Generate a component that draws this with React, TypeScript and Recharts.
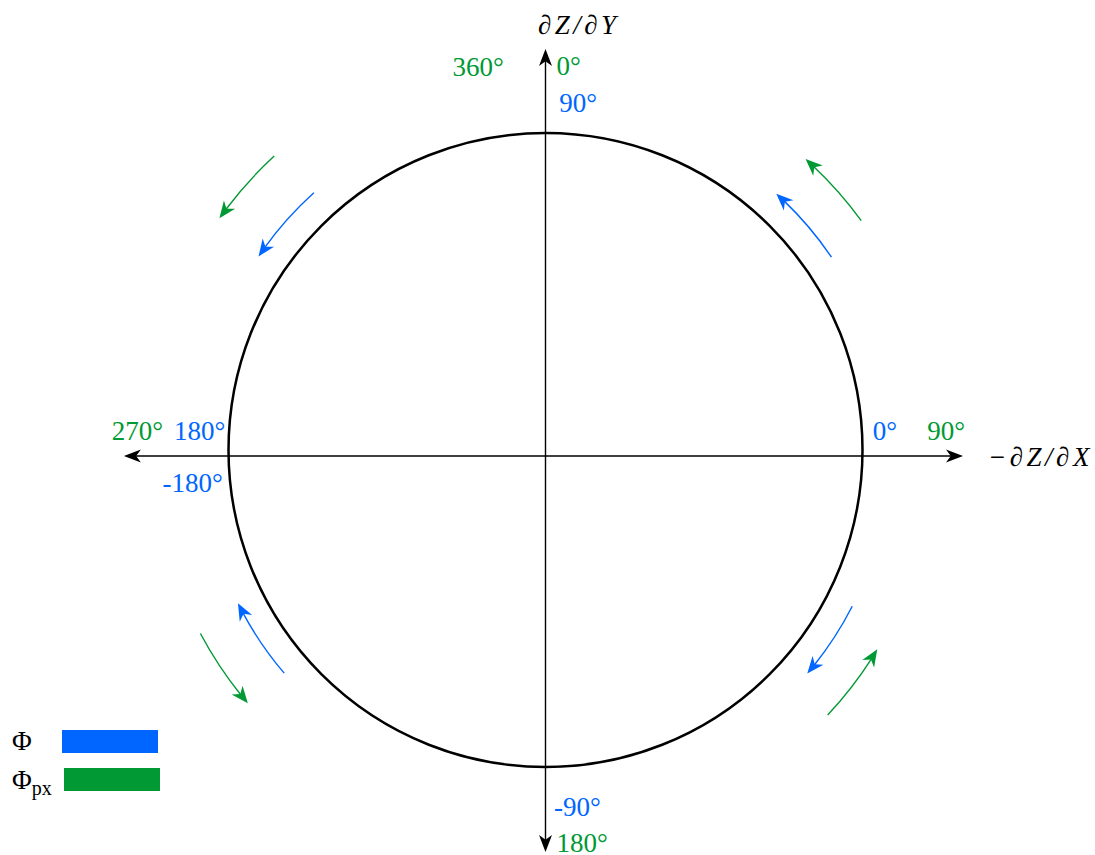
import React from "react";
import {
  Legend,
  ReferenceDot,
  ReferenceLine,
  Scatter,
  ScatterChart,
  XAxis,
  YAxis,
} from "recharts";

const W = 1095;
const H = 855;
// pixels per unit of circle radius; the circle has radius 1
const K = 317;
const CX = 545.5;
const CY = 450;
const X_DOMAIN = [-CX / K, (W - CX) / K];
const Y_DOMAIN = [-(H - CY) / K, CY / K];

const BLUE = "#0066ff";
const GREEN = "#009933";
const SERIF = "'Liberation Serif', 'DejaVu Serif', serif";

// direction arcs: tail angle -> head angle (degrees), radius in circle units
const phiArrows = [
  { from: 34, to: 48, r: 1.088 },
  { from: 132, to: 146, r: 1.092 },
  { from: -139.5, to: -153.5, r: 1.084 },
  { from: -27, to: -40.5, r: 1.086 },
];
const phiPxArrows = [
  { from: 36, to: 48.2, r: 1.231 },
  { from: 132.7, to: 144.6, r: 1.262 },
  { from: -152, to: -139.6, r: 1.233 },
  { from: -43.2, to: -31, r: 1.221 },
];

const phiTicks = ["0°", "90°", "180°", "-180°", "-90°"];
const phiPxTicks = ["0°", "90°", "180°", "270°", "360°"];
const axisTitles = ["∂Z/∂Y", "−∂Z/∂X"];
const legendNames = ["Φ", "Φpx"];

// where each label sits (start of text, baseline), circle units
const phiTickSpots = [
  [1.032, 0.033],
  [0.043, 1.066],
  [-1.172, 0.033],
  [-1.208, -0.132],
  [0.027, -1.156],
];
const phiPxTickSpots = [
  [0.035, 1.183],
  [1.204, 0.033],
  [0.035, -1.268],
  [-1.368, 0.033],
  [-0.293, 1.18],
];
const titleSpots = [
  [-0.024, 1.312],
  [1.396, -0.05],
];

const phiLabels = phiTicks.map((t, i) => ({ x: phiTickSpots[i][0], y: phiTickSpots[i][1], text: t }));
const phiPxLabels = phiPxTicks.map((t, i) => ({ x: phiPxTickSpots[i][0], y: phiPxTickSpots[i][1], text: t }));
const titleLabels = axisTitles.map((t, i) => ({ x: titleSpots[i][0], y: titleSpots[i][1], text: t }));

const rad = (d: number) => (d * Math.PI) / 180;

function headPath(xt: number, yt: number, ang: number, L: number, w: number, notch = 0.72) {
  const c = Math.cos(ang);
  const s = Math.sin(ang);
  const pts = [
    [0, 0],
    [-L, -w / 2],
    [-notch * L, 0],
    [-L, w / 2],
  ].map(([lx, ly]) => `${xt + lx * c - ly * s},${yt + lx * s + ly * c}`);
  return `M${pts.join("L")}Z`;
}

function arcShape(color: string) {
  return (props: any) => {
    const { cx, cy, payload } = props;
    const rPx = payload.r * K;
    const a0 = rad(payload.from);
    const a1 = rad(payload.to);
    const dir = a1 > a0 ? 1 : -1;
    const L = 17;
    const pt = (a: number) => [cx + rPx * Math.cos(a), cy - rPx * Math.sin(a)];
    const [x0, y0] = pt(a0);
    const [xe, ye] = pt(a1 - (dir * L * 0.6) / rPx);
    const [xt, yt] = pt(a1);
    const [xb, yb] = pt(a1 - (dir * L) / rPx);
    const ang = Math.atan2(yt - yb, xt - xb);
    return (
      <g>
        <path
          d={`M${x0},${y0}A${rPx},${rPx} 0 0 ${dir > 0 ? 0 : 1} ${xe},${ye}`}
          fill="none"
          stroke={color}
          strokeWidth={1.4}
        />
        <path d={headPath(xt, yt, ang, L, 14, 0.7)} fill={color} />
      </g>
    );
  };
}

function textShape(color: string, italic = false) {
  return (props: any) => {
    const { cx, cy, payload } = props;
    return (
      <text
        x={cx}
        y={cy}
        fill={color}
        fontFamily={SERIF}
        fontSize={27}
        fontStyle={italic ? "italic" : "normal"}
        letterSpacing={italic ? 3.5 : 0}
      >
        {payload.text}
      </text>
    );
  };
}

function axisShape(props: any) {
  const { x1, y1, x2, y2 } = props;
  const ang = Math.atan2(y2 - y1, x2 - x1);
  const L = 17;
  const inset = L * 0.7;
  const ux = Math.cos(ang);
  const uy = Math.sin(ang);
  return (
    <g>
      <line
        x1={x1 + ux * inset}
        y1={y1 + uy * inset}
        x2={x2 - ux * inset}
        y2={y2 - uy * inset}
        stroke="#000"
        strokeWidth={1.4}
      />
      <path d={headPath(x2, y2, ang, L, 13)} fill="#000" />
      <path d={headPath(x1, y1, ang + Math.PI, L, 13)} fill="#000" />
    </g>
  );
}

function LegendBox() {
  return (
    <svg width={200} height={90}>
      <text x={12} y={30} fontFamily={SERIF} fontSize={27} fill="#000">
        {legendNames[0]}
      </text>
      <rect x={62} y={10} width={96} height={23} fill={BLUE} />
      <text x={12} y={69} fontFamily={SERIF} fontSize={27} fill="#000">
        {legendNames[1].slice(0, 1)}
        <tspan fontSize={20} dy={6}>
          {legendNames[1].slice(1)}
        </tspan>
      </text>
      <rect x={64} y={48} width={96} height={23} fill={GREEN} />
    </svg>
  );
}

export default function App() {
  return (
    <div style={{ position: "absolute", left: 0, top: 0, background: "#fff" }}>
      <ScatterChart width={W} height={H} margin={{ top: 0, right: 0, bottom: 0, left: 0 }}>
        <XAxis type="number" dataKey="x" domain={X_DOMAIN} allowDataOverflow hide />
        <YAxis type="number" dataKey="y" domain={Y_DOMAIN} allowDataOverflow hide />
        <ReferenceLine
          segment={[
            { x: 0, y: -1.268 },
            { x: 0, y: 1.265 },
          ]}
          shape={axisShape}
        />
        <ReferenceLine
          segment={[
            { x: -1.33, y: -0.019 },
            { x: 1.317, y: -0.019 },
          ]}
          shape={axisShape}
        />
        <ReferenceDot x={0} y={0} r={K} fill="none" stroke="#000" strokeWidth={2.5} />
        <Scatter
          data={phiArrows.map((a) => ({ ...a, x: 0, y: 0 }))}
          shape={arcShape(BLUE)}
          isAnimationActive={false}
        />
        <Scatter
          data={phiPxArrows.map((a) => ({ ...a, x: 0, y: 0 }))}
          shape={arcShape(GREEN)}
          isAnimationActive={false}
        />
        <Scatter data={phiLabels} shape={textShape(BLUE)} isAnimationActive={false} />
        <Scatter data={phiPxLabels} shape={textShape(GREEN)} isAnimationActive={false} />
        <Scatter data={titleLabels} shape={textShape("#000", true)} isAnimationActive={false} />
        <Legend
          layout="horizontal"
          verticalAlign="middle"
          content={() => <LegendBox />}
          wrapperStyle={{ left: 0, top: 720, width: 200, height: 90 }}
        />
      </ScatterChart>
    </div>
  );
}
